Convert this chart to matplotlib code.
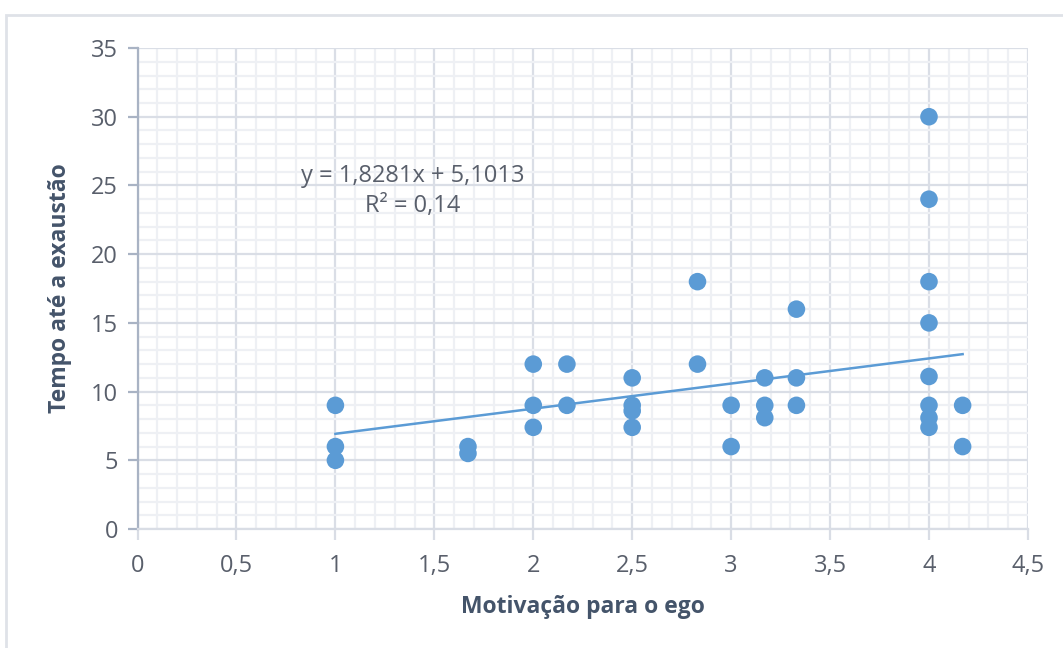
import numpy as np
import matplotlib.pyplot as plt
from matplotlib.ticker import MultipleLocator, FuncFormatter
from matplotlib.patches import Rectangle

plt.rcParams['font.family'] = ['Open Sans', 'DejaVu Sans']

# dados
motivacao_ego = [1, 1, 1,
                 1.67, 1.67,
                 2, 2, 2,
                 2.17, 2.17,
                 2.5, 2.5, 2.5, 2.5,
                 2.83, 2.83,
                 3, 3,
                 3.17, 3.17, 3.17,
                 3.33, 3.33, 3.33,
                 4, 4, 4, 4, 4, 4, 4, 4,
                 4.17, 4.17]
tempo_exaustao = [9, 6, 5,
                  6, 5.5,
                  12, 9, 7.4,
                  12, 9,
                  11, 9, 8.6, 7.4,
                  18, 12,
                  9, 6,
                  11, 9, 8.1,
                  16, 11, 9,
                  30, 24, 18, 15, 11.1, 9, 8.1, 7.4,
                  9, 6]

# linha de tendência (equação mostrada no gráfico)
slope = 1.8281
intercept = 5.1013
r2 = 0.14

azul = '#5B9BD5'
texto = '#595f6b'
titulo = '#44546A'

fig = plt.figure(figsize=(10.63, 6.48), dpi=100)
ax = fig.add_axes([0.1294, 0.1836, 0.8376, 0.7423])

# borda externa do gráfico
fig.patches.append(Rectangle((6 / 1063, -0.1), 1.2, 1.1 - 15 / 648,
                             transform=fig.transFigure, fill=False,
                             edgecolor='#dfe2e8', linewidth=2))

ax.set_xlim(0, 4.5)
ax.set_ylim(0, 35)
ax.xaxis.set_major_locator(MultipleLocator(0.5))
ax.xaxis.set_minor_locator(MultipleLocator(0.1))
ax.yaxis.set_major_locator(MultipleLocator(5))
ax.yaxis.set_minor_locator(MultipleLocator(1))

fmt = FuncFormatter(lambda v, p: ('%g' % v).replace('.', ','))
ax.xaxis.set_major_formatter(fmt)
ax.yaxis.set_major_formatter(fmt)

ax.grid(which='major', color='#dadee6', linewidth=1.6, zorder=0)
ax.grid(which='minor', color='#eef0f4', linewidth=1.6, zorder=0)
ax.set_axisbelow(True)

for s in ['top', 'right']:
    ax.spines[s].set_visible(False)
ax.spines['left'].set_color('#a9b3c4')
ax.spines['left'].set_linewidth(1.6)
ax.spines['bottom'].set_color('#d9dde5')
ax.spines['bottom'].set_linewidth(1.6)

ax.tick_params(axis='y', which='major', length=7, width=1.6, color='#a9b3c4',
               labelsize=17, labelcolor=texto, pad=7)
ax.tick_params(axis='x', which='major', length=8, width=1.6, color='#d9dde5',
               labelsize=17, labelcolor=texto, pad=10)
ax.tick_params(which='minor', length=0)

ax.scatter(motivacao_ego, tempo_exaustao, s=160, color=azul,
           edgecolors='none', zorder=3)

xt = np.array([min(motivacao_ego), max(motivacao_ego)])
ax.plot(xt, slope * xt + intercept, color=azul, linewidth=1.8, zorder=2)

ax.text(1.39, 24.6, 'y = 1,8281x + 5,1013\nR² = 0,14', ha='center', va='center',
        fontsize=17, color=texto, linespacing=1.35)

ax.set_xlabel('Motivação para o ego', fontsize=16.5, fontweight='bold',
              color=titulo, labelpad=12)
ax.set_ylabel('Tempo até a exaustão', fontsize=16.5, fontweight='bold',
              color=titulo, labelpad=14)

fig.savefig('out.png', dpi=100, facecolor='white')
